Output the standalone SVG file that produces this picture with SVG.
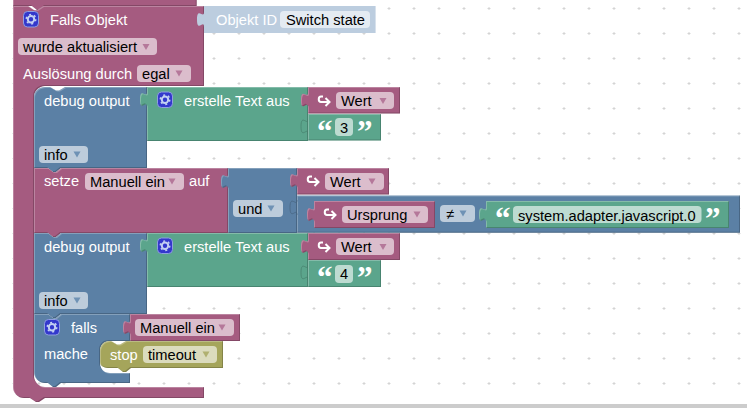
<svg xmlns="http://www.w3.org/2000/svg" xmlns:xlink="http://www.w3.org/1999/xlink" width="747" height="408" viewBox="0 0 747 408">
<style>
text{font-family:"Liberation Sans",Arial,sans-serif;font-size:14.67px;fill:#fff}
text.d{fill:#000}
text.q{font-family:"Liberation Serif","Times New Roman",serif;font-size:31px;font-weight:bold}
.m{fill:#a55b80}.b{fill:#5b80a5}.g{fill:#5ba58c}.o{fill:#a5a55b}.l{fill:#bccddf}
.pm{fill:#dbbdcc}.pb{fill:#bdccdb}.pg{fill:#bddbd1}.po{fill:#dbdbbd}.pl{fill:#e4ebf2}
.am{fill:#b5789a}.ab{fill:#6f92b5}.ao{fill:#b0b070}
.hole{fill:none;stroke:#46627e;stroke-width:1;opacity:.7}
.holeg{fill:none;stroke:#467e6b;stroke-width:1;opacity:.7}
.ar{fill:none;stroke:#fff;stroke-width:2}
</style>
<defs>
<pattern id="grid" patternUnits="userSpaceOnUse" x="1" y="-4" width="25" height="25">
<path d="M11.5 12.5h3M13 11v3" stroke="#d4d4d4" stroke-width="1" fill="none"/>
</pattern>
<filter id="bevel" x="-2%" y="-2%" width="104%" height="104%" color-interpolation-filters="sRGB">
<feOffset in="SourceAlpha" dx="1" dy="1" result="a"/>
<feComposite in="SourceAlpha" in2="a" operator="out" result="ra"/>
<feFlood flood-color="#fff" flood-opacity=".25"/>
<feComposite in2="ra" operator="in" result="hi"/>
<feOffset in="SourceAlpha" dx="-1" dy="-1" result="c"/>
<feComposite in="SourceAlpha" in2="c" operator="out" result="rc"/>
<feFlood flood-color="#000" flood-opacity=".2"/>
<feComposite in2="rc" operator="in" result="lo"/>
<feMerge><feMergeNode in="SourceGraphic"/><feMergeNode in="hi"/><feMergeNode in="lo"/></feMerge>
</filter>
<g id="gear">
<rect x=".5" y=".5" width="15" height="15.500" rx="4" fill="#3338cc" stroke="#8f9ee0"/>
<circle cx="8" cy="8.200" r="3.200" fill="none" stroke="#c3d0f2" stroke-width="2"/>
<circle cx="8" cy="8.200" r="4.700" fill="none" stroke="#c3d0f2" stroke-width="1.600" stroke-dasharray="2 2.920"/>
</g>
<path id="tri" d="M-3.500 -2.500h7l-3.500 6z"/>
<path id="arrow" class="ar" d="M6 2.500H4c-3 0 -3 5.500 0 5.500H12M8.500 4l4 4 -4 4"/>
</defs>

<rect width="747" height="404" fill="#fff"/>
<rect width="747" height="404" fill="url(#grid)"/>
<rect y="404" width="747" height="4" fill="#cccccc"/>

<g id="connectors"/>

<g id="block-previous">
<path class="m" filter="url(#bevel)" d="M13 -2H196.700V6H45l-5 4h-3l-5 -4H13z"/>
</g>

<g id="block-falls-objekt">
<path class="m" filter="url(#bevel)" d="M13 6h15l6 4h3l6 -4H204V86H45c-6 0 -11 5 -11 11V376c0 6 5 11 11 11H204V398H45l-6 4h-3l-6 -4H24c-6 0 -11 -5 -11 -11z"/>
<use xlink:href="#gear" x="23" y="11"/>
<text x="50" y="25">Falls Objekt</text>
<rect class="pm" x="18" y="38" width="139" height="17" rx="4"/>
<text class="d" x="23" y="52">wurde aktualisiert</text>
<use xlink:href="#tri" class="am" x="146" y="46.500"/>
<text x="23" y="79">Auslösung durch</text>
<rect class="pm" x="137" y="65" width="54" height="17" rx="4"/>
<text class="d" x="142" y="79">egal</text>
<use xlink:href="#tri" class="am" x="179" y="73"/>
</g>

<g id="block-objekt-id">
<path class="l" d="M204 6H375.600V33H204V27c0 -8 -7 6 -7 -7.500s7 0 7 -7.500z"/>
<text x="216" y="25">Objekt ID</text>
<rect class="pl" x="280" y="11" width="90" height="17" rx="4"/>
<text class="d" x="286" y="25">Switch state</text>
</g>

<g id="block-debug-1">
<path class="b" filter="url(#bevel)" d="M34 97c0 -6 5 -10 11 -10H50l6 3.500h3l6 -3.500H147V168H61l-5 4h-3l-5 -4H34z"/>
<text x="44" y="106">debug output</text>
<rect class="pb" x="39" y="146" width="49" height="17" rx="4"/>
<text class="d" x="44" y="160">info</text>
<use xlink:href="#tri" class="ab" x="77" y="154"/>
</g>

<g id="block-text-1">
<path class="g" filter="url(#bevel)" d="M147 87H308V141H147V107c0 -8 -7 6 -7 -7.500s7 0 7 -7.500z"/>
<use xlink:href="#gear" x="157" y="91.500"/>
<text x="184" y="106">erstelle Text aus</text>
<path class="holeg" d="M308 134c0 -8 -7 6 -7 -7.500s7 0 7 -7.500"/>
</g>

<g id="block-wert-1">
<path class="m" filter="url(#bevel)" d="M308 87H400V113.600H308V107.500c0 -8 -7 6 -7 -7.500s7 0 7 -7.500z"/>
<use xlink:href="#arrow" x="317" y="94"/>
<rect class="pm" x="336" y="92" width="58" height="17" rx="4"/>
<text class="d" x="341" y="106">Wert</text>
<use xlink:href="#tri" class="am" x="383" y="100.500"/>
</g>

<g id="block-string-3">
<path class="g" filter="url(#bevel)" d="M308 114H381V140.600H308z"/>
<text class="q" x="317" y="142">“</text>
<rect class="pg" x="335" y="118" width="18" height="18" rx="4"/>
<text class="d" x="340" y="133">3</text>
<text class="q" x="357" y="142">”</text>
</g>

<g id="block-setze">
<path class="m" filter="url(#bevel)" d="M34 168H48l5 4h3l5 -4H228V233H61l-5 4h-3l-5 -4H34z"/>
<text x="44" y="186">setze</text>
<rect class="pm" x="85" y="173" width="99" height="17" rx="4"/>
<text class="d" x="90" y="186.500">Manuell ein</text>
<use xlink:href="#tri" class="am" x="172" y="181"/>
<text x="189" y="186">auf</text>
</g>

<g id="block-und">
<path class="b" filter="url(#bevel)" d="M228 168H297V233H228V189c0 -8 -7 6 -7 -7.500s7 0 7 -7.500z"/>
<rect class="pb" x="233" y="200" width="50" height="17" rx="4"/>
<text class="d" x="238" y="214">und</text>
<use xlink:href="#tri" class="ab" x="271" y="208"/>
</g>

<g id="block-wert-2">
<path class="m" filter="url(#bevel)" d="M297 168H389V194.600H297V188c0 -8 -7 6 -7 -7.500s7 0 7 -7.500z"/>
<use xlink:href="#arrow" x="306" y="174"/>
<rect class="pm" x="325" y="173" width="59" height="17" rx="4"/>
<text class="d" x="330" y="186.500">Wert</text>
<use xlink:href="#tri" class="am" x="372" y="181"/>
</g>

<g id="block-vergleich">
<path class="b" filter="url(#bevel)" d="M297 195.600H740V232.700H297z"/>
<path class="hole" d="M297 215c0 -8 -7 6 -7 -7.500s7 0 7 -7.500"/>
</g>

<g id="block-ursprung">
<path class="m" filter="url(#bevel)" d="M314 201H435V228H314V222c0 -8 -7 6 -7 -7.500s7 0 7 -7.500z"/>
<use xlink:href="#arrow" x="323" y="207"/>
<rect class="pm" x="342" y="206" width="86" height="17" rx="4"/>
<text class="d" x="347" y="220">Ursprung</text>
<use xlink:href="#tri" class="am" x="417" y="214"/>
</g>

<g id="block-operator">
<rect class="pb" x="440" y="205" width="35" height="17" rx="4"/>
<text class="d" x="446" y="219">≠</text>
<use xlink:href="#tri" class="ab" x="463" y="213"/>
</g>

<g id="block-string-system">
<path class="g" filter="url(#bevel)" d="M486 201H729V228H486V222c0 -8 -7 6 -7 -7.500s7 0 7 -7.500z"/>
<text class="q" x="495" y="229">“</text>
<rect class="pg" x="513" y="206" width="188.500" height="17" rx="4"/>
<text class="d" x="518" y="221">system.adapter.javascript.0</text>
<text class="q" x="705" y="229">”</text>
</g>

<g id="block-debug-2">
<path class="b" filter="url(#bevel)" d="M34 233H48l5 4h3l5 -4H147V314H61l-5 4h-3l-5 -4H34z"/>
<text x="44" y="252">debug output</text>
<rect class="pb" x="39" y="292" width="49" height="17" rx="4"/>
<text class="d" x="44" y="306">info</text>
<use xlink:href="#tri" class="ab" x="77" y="300"/>
</g>

<g id="block-text-2">
<path class="g" filter="url(#bevel)" d="M147 233H308V287H147V253c0 -8 -7 6 -7 -7.500s7 0 7 -7.500z"/>
<use xlink:href="#gear" x="157" y="237.500"/>
<text x="184" y="252">erstelle Text aus</text>
<path class="holeg" d="M308 280c0 -8 -7 6 -7 -7.500s7 0 7 -7.500"/>
</g>

<g id="block-wert-3">
<path class="m" filter="url(#bevel)" d="M308 233H400V260H308V254c0 -8 -7 6 -7 -7.500s7 0 7 -7.500z"/>
<use xlink:href="#arrow" x="317" y="240"/>
<rect class="pm" x="336" y="238" width="58" height="17" rx="4"/>
<text class="d" x="341" y="252">Wert</text>
<use xlink:href="#tri" class="am" x="383" y="246.500"/>
</g>

<g id="block-string-4">
<path class="g" filter="url(#bevel)" d="M308 260H381V287H308z"/>
<text class="q" x="317" y="288">“</text>
<rect class="pg" x="335" y="265" width="18" height="18" rx="4"/>
<text class="d" x="340" y="279">4</text>
<text class="q" x="357" y="288">”</text>
</g>

<g id="block-falls">
<path class="b" filter="url(#bevel)" d="M34 314H48l5 4h3l5 -4H130V341H110c-6 0 -10 4 -10 10V363c0 6 4 10 10 10H130V383H61l-5 4h-3l-5 -4H45c-6 0 -11 -5 -11 -11z"/>
<use xlink:href="#gear" x="44" y="319"/>
<text x="71" y="333">falls</text>
<text x="44" y="359">mache</text>
</g>

<g id="block-manuell-ein">
<path class="m" filter="url(#bevel)" d="M130 314H240V341H130V335c0 -8 -7 6 -7 -7.500s7 0 7 -7.500z"/>
<rect class="pm" x="135" y="319" width="99" height="17" rx="4"/>
<text class="d" x="140" y="333">Manuell ein</text>
<use xlink:href="#tri" class="am" x="222" y="327"/>
</g>

<g id="block-stop">
<path class="o" filter="url(#bevel)" d="M100 351c0 -6 4 -10 10 -10H111l6 3.500h3l6 -3.500H223V368H131l-5 4h-3l-5 -4H110c-6 0 -10 -2 -10 -6z"/>
<text x="110" y="360">stop</text>
<rect class="po" x="143" y="346" width="74" height="17" rx="4"/>
<text class="d" x="148" y="360">timeout</text>
<use xlink:href="#tri" class="ao" x="206" y="354"/>
</g>
</svg>
